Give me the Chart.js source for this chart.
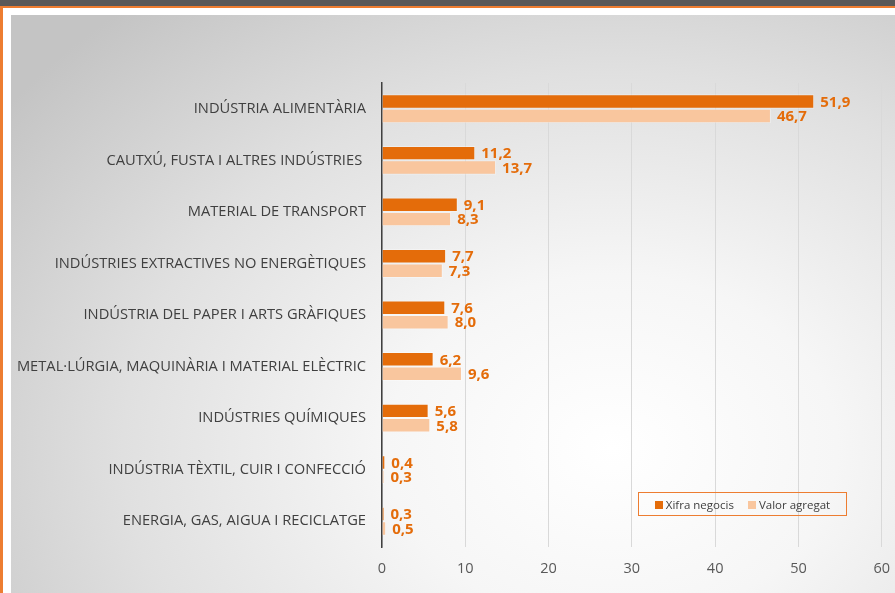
<!DOCTYPE html>
<html>
<head>
<meta charset="utf-8">
<script src="https://cdn.jsdelivr.net/npm/chart.js@4.4.0/dist/chart.umd.min.js"></script>
<style>
    html, body { margin: 0; padding: 0; background: #ffffff; }
    body { width: 895px; height: 593px; position: relative; overflow: hidden; font-family: 'Open Sans', sans-serif; }
    .topbar { position: absolute; left: 0; top: 0; width: 895px; height: 6px; background: #595959; border-bottom: 2px solid #ED7D31; }
    .leftbar { position: absolute; left: 0; top: 6px; width: 3px; height: 587px; background: #ED7D31; }
    .panel {
        position: absolute; left: 11px; top: 15px; width: 884px; height: 578px; overflow: hidden;
        background: radial-gradient(ellipse 85% 100% at 68% 75%, #ffffff 0%, #f6f6f6 30%, #e0e0e0 65%, #c4c4c4 100%);
    }
    #chart { position: absolute; left: 0; top: 0; }
    .legend {
        position: absolute; left: 627px; top: 477px; width: 207px; height: 22px;
        border: 1px solid #ED7D31; display: flex; align-items: center; justify-content: center;
        font-size: 11.5px; color: #404040; gap: 14px;
    }
    .legend span.sw { display: inline-block; width: 8px; height: 8px; margin-right: 3px; vertical-align: 0px; }
</style>
</head>
<body>
<div class="topbar"></div>
<div class="leftbar"></div>
<div class="panel">
    <canvas id="chart" width="892" height="578"></canvas>
    <div class="legend" id="legend"></div>
</div>
<script>
const categories = [
    'INDÚSTRIA ALIMENTÀRIA',
    'CAUTXÚ, FUSTA I ALTRES INDÚSTRIES ',
    'MATERIAL DE TRANSPORT',
    'INDÚSTRIES EXTRACTIVES NO ENERGÈTIQUES',
    'INDÚSTRIA DEL PAPER I ARTS GRÀFIQUES',
    'METAL·LÚRGIA, MAQUINÀRIA I MATERIAL ELÈCTRIC',
    'INDÚSTRIES QUÍMIQUES',
    'INDÚSTRIA TÈXTIL, CUIR I CONFECCIÓ',
    'ENERGIA, GAS, AIGUA I RECICLATGE'
];
const seriesNames = ['Xifra negocis', 'Valor agregat'];
const xifraNegocis = [51.9, 11.2, 9.1, 7.7, 7.6, 6.2, 5.6, 0.4, 0.3];
const valorAgregat = [46.7, 13.7, 8.3, 7.3, 8.0, 9.6, 5.8, 0.3, 0.5];
const xTicks = [0, 10, 20, 30, 40, 50, 60];

const colors = ['#E46C0A', '#F9C69E'];
const labelColor = '#E46C0A';

// draws the value next to the end of each bar
const barLabels = {
    id: 'barLabels',
    afterDatasetsDraw(chart) {
        const ctx = chart.ctx;
        ctx.save();
        ctx.font = 'bold 15px "Open Sans", sans-serif';
        ctx.fillStyle = labelColor;
        ctx.textAlign = 'left';
        ctx.textBaseline = 'middle';
        chart.data.datasets.forEach((ds, i) => {
            const meta = chart.getDatasetMeta(i);
            meta.data.forEach((bar, j) => {
                const txt = ds.data[j].toFixed(1).replace('.', ',');
                ctx.fillText(txt, bar.x + 6, bar.y + 1);
            });
        });
        ctx.restore();
    }
};

document.addEventListener('DOMContentLoaded', function() {
    const ctx = document.getElementById('chart');
    new Chart(ctx, {
        type: 'bar',
        data: {
            labels: categories,
            datasets: [
                {
                    label: seriesNames[0],
                    data: xifraNegocis,
                    backgroundColor: colors[0],
                    borderColor: 'rgba(255,255,255,0.35)',
                    borderWidth: 1
                },
                {
                    label: seriesNames[1],
                    data: valorAgregat,
                    backgroundColor: colors[1],
                    borderColor: 'rgba(255,255,255,0.35)',
                    borderWidth: 1
                }
            ]
        },
        options: {
            indexAxis: 'y',
            responsive: false,
            animation: false,
            datasets: {
                bar: { barPercentage: 1.0, categoryPercentage: 0.56 }
            },
            layout: { padding: { top: 68, right: 6, bottom: 0, left: 0 } },
            plugins: {
                legend: { display: false },
                tooltip: { enabled: false }
            },
            scales: {
                x: {
                    min: 0,
                    max: 60,
                    afterBuildTicks: function(axis) {
                        axis.ticks = xTicks.map(v => ({ value: v }));
                    },
                    afterFit: function(axis) { axis.height = 46; },
                    grid: { color: '#D9D9D9', lineWidth: 1, drawTicks: false },
                    border: { display: false },
                    ticks: {
                        padding: 13,
                        color: '#595959',
                        font: { family: 'Open Sans', size: 14.5 }
                    }
                },
                y: {
                    afterFit: function(axis) { axis.width = 371; },
                    grid: { display: false, drawTicks: false },
                    border: { color: '#404040', width: 1.5 },
                    ticks: {
                        padding: 16,
                        color: '#404040',
                        font: { family: 'Open Sans', size: 14.7 }
                    }
                }
            }
        },
        plugins: [barLabels]
    });

    // legend box
    const legend = document.getElementById('legend');
    seriesNames.forEach((name, i) => {
        const item = document.createElement('div');
        item.innerHTML = '<span class="sw" style="background:' + colors[i] + '"></span>' + name;
        legend.appendChild(item);
    });
});
</script>
</body>
</html>
